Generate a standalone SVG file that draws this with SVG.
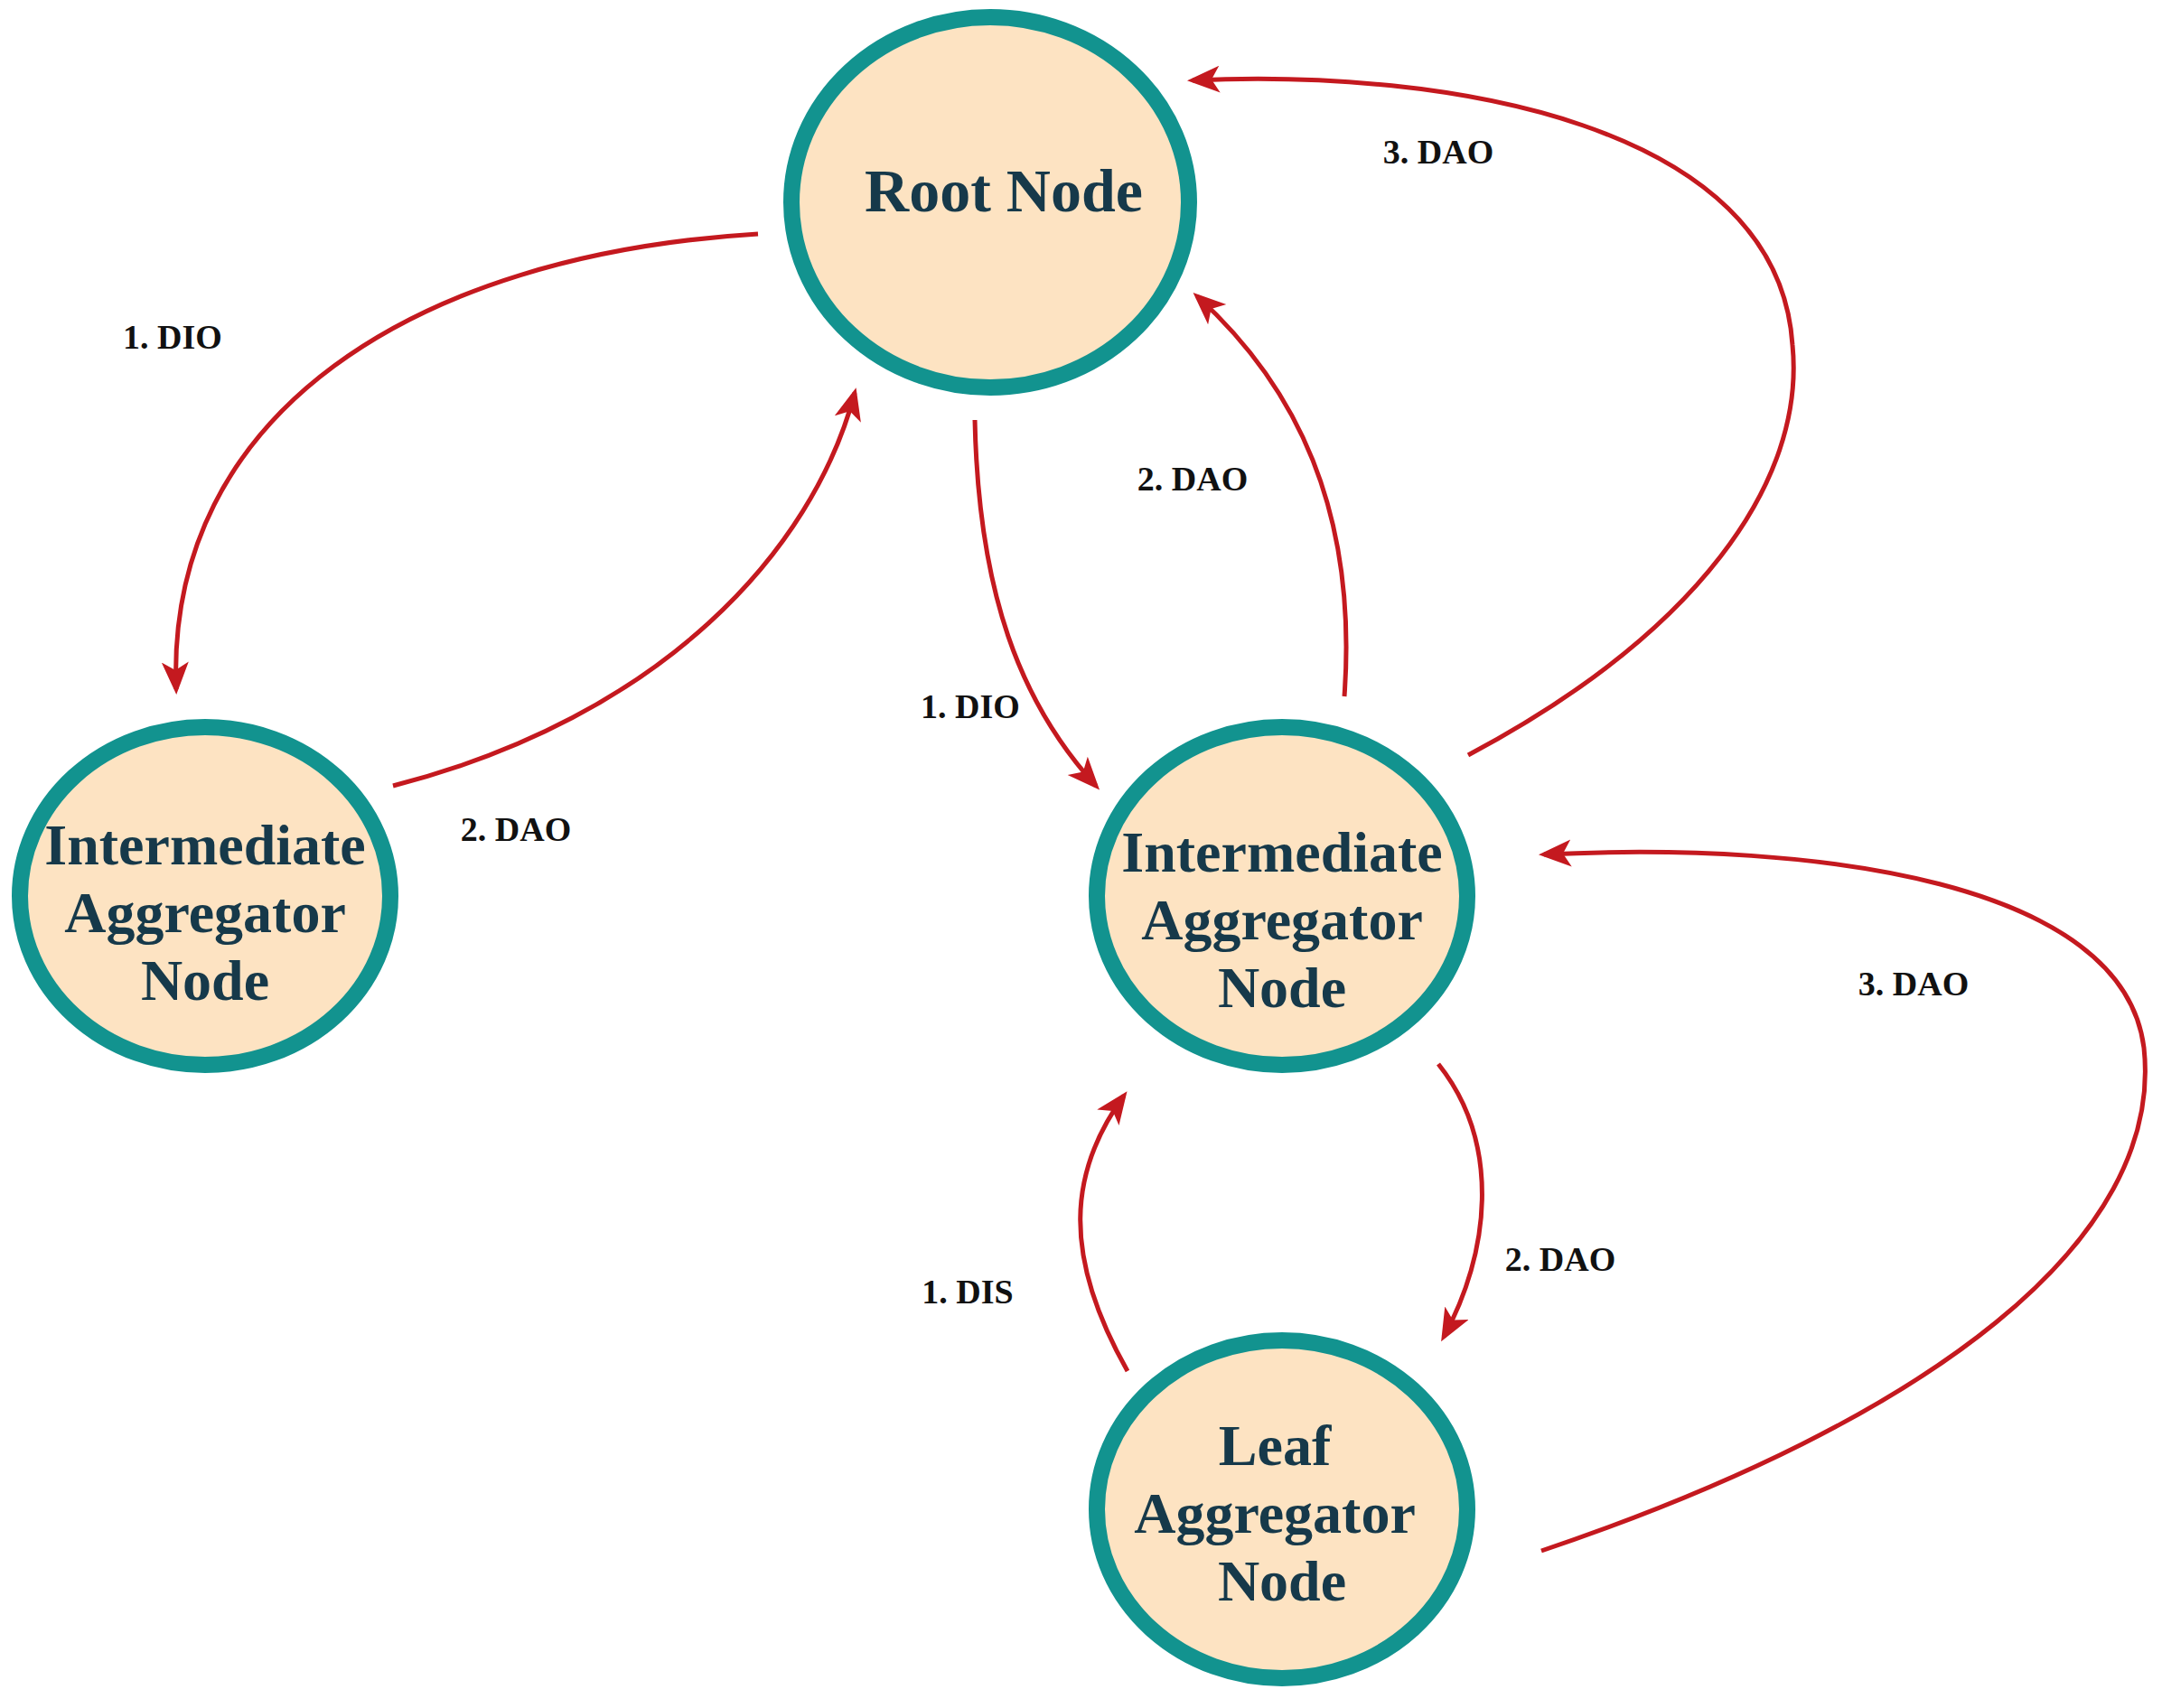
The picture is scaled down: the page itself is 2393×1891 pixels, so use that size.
<svg xmlns="http://www.w3.org/2000/svg" width="2393" height="1891" viewBox="0 0 2393 1891">
<style>
.n{fill:#fde3c2;stroke:#12938f;stroke-width:18}
.t{font-family:"Liberation Serif",serif;font-weight:bold;fill:#16394a;text-anchor:middle}
.nt{font-size:64px}
.l{font-family:"Liberation Serif",serif;font-weight:bold;font-size:38px;text-anchor:middle;fill:#111}
.c{fill:none;stroke:#c4191f;stroke-width:5;marker-end:url(#a)}
</style>
<defs><marker id="a" markerUnits="userSpaceOnUse" markerWidth="40" markerHeight="40" refX="30" refY="15" orient="auto"><path d="M0,0 L36,15 L0,30 L9,15 Z" fill="#c4191f"/></marker></defs>
<rect width="2393" height="1891" fill="#fff"/>
<g id="root"><ellipse class="n" cx="1096" cy="224" rx="220" ry="205"/><text class="t" x="1111" y="234" font-size="68">Root Node</text></g>
<g id="ia-left"><ellipse class="n" cx="227" cy="992" rx="205" ry="187"/><text class="t nt"><tspan x="227" y="957">Intermediate</tspan><tspan x="227" y="1032">Aggregator</tspan><tspan x="227" y="1107">Node</tspan></text></g>
<g id="ia-right"><ellipse class="n" cx="1419" cy="992" rx="205" ry="187"/><text class="t nt"><tspan x="1419" y="965">Intermediate</tspan><tspan x="1419" y="1040">Aggregator</tspan><tspan x="1419" y="1115">Node</tspan></text></g>
<g id="leaf"><ellipse class="n" cx="1419" cy="1671" rx="205" ry="187"/><text class="t nt"><tspan x="1411" y="1622">Leaf</tspan><tspan x="1411" y="1697">Aggregator</tspan><tspan x="1419" y="1772">Node</tspan></text></g>
<g id="connectors">
<path class="c" d="M839,259 C458,282 183,458 195,763"/>
<path class="c" d="M435,870 C732,794 900,610 946,435"/>
<path class="c" d="M1079,465 C1083,656 1129,778 1213,870"/>
<path class="c" d="M1488,771 C1503,565 1434,427 1325,328"/>
<path class="c" d="M1625,836 C1877,702 1999,534 1984,382 C1968,137 1602,76 1320,89"/>
<path class="c" d="M1592,1178 C1663,1267 1648,1389 1598,1480"/>
<path class="c" d="M1248,1518 C1175,1389 1183,1297 1244,1213"/>
<path class="c" d="M1706,1717 C2136,1572 2396,1373 2373,1160 C2350,977 2014,931 1709,946"/>
</g>
<g id="labels">
<text class="l" x="191" y="386">1. DIO</text>
<text class="l" x="571" y="931">2. DAO</text>
<text class="l" x="1074" y="795">1. DIO</text>
<text class="l" x="1320" y="543" fill="#16394a">2. DAO</text>
<text class="l" x="1592" y="181" fill="#16394a">3. DAO</text>
<text class="l" x="2118" y="1102">3. DAO</text>
<text class="l" x="1727" y="1407">2. DAO</text>
<text class="l" x="1071" y="1443">1. DIS</text>
</g>
</svg>
